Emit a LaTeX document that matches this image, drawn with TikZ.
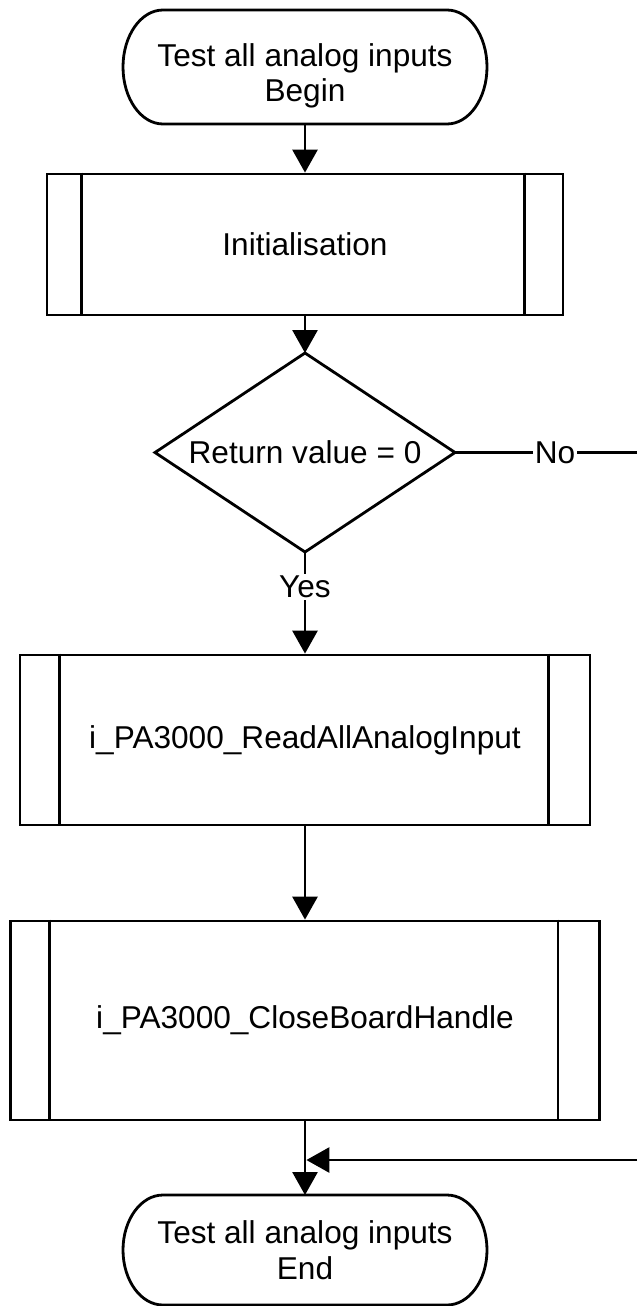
\documentclass[tikz,border=0pt]{standalone}
\usepackage{fontspec}
\setmainfont{Liberation Sans}
\usetikzlibrary{arrows.meta,calc}
\begin{document}
\begin{tikzpicture}[x=1pt,y=-1pt,line width=2.8pt,
  txt/.style={font=\fontsize{31.6}{35.5}\selectfont,align=center},
  term/.style={rectangle,minimum width=364pt,inner sep=0pt,outer sep=0pt},
  proc/.style={txt,draw,rectangle,inner sep=0pt},
  decbox/.style={txt,rectangle,inner sep=0pt,outer sep=0pt,minimum width=300pt,minimum height=199pt},
  arr/.style={-{Triangle[length=23pt,width=25pt]}},
  lbl/.style={txt,fill=white,inner sep=2pt}]
\useasboundingbox (0,0) rectangle (637,1306);

% Begin terminator
\node[term,minimum height=114pt] (begin) at (305,67) {};
\node[txt] (begintext) at (305,76) {Test all analog inputs\\Begin};
\draw ($(begin.north west)+(40,0)$) -- ($(begin.north east)+(-40,0)$)
  arc[start angle=90,end angle=-90,x radius=40pt,y radius=57pt]
  -- ($(begin.south west)+(40,0)$)
  arc[start angle=270,end angle=90,x radius=40pt,y radius=57pt] -- cycle;

% Initialisation
\node[proc,minimum width=516pt,minimum height=141pt] (init) at (305,244.5) {Initialisation};
\draw ($(init.north west)+(36,0)$) -- ($(init.south west)+(36,0)$);
\draw ($(init.north east)+(-40,0)$) -- ($(init.south east)+(-40,0)$);

% Decision
\node[decbox] (dec) at (305,452.5) {Return value = 0};
\draw (dec.north) -- (dec.east) -- (dec.south) -- (dec.west) -- cycle;

% ReadAllAnalogInput
\node[proc,minimum width=570pt,minimum height=170pt] (read) at (305,740) {i\_PA3000\_ReadAllAnalogInput};
\draw ($(read.north west)+(41,0)$) -- ($(read.south west)+(41,0)$);
\draw ($(read.north east)+(-43,0)$) -- ($(read.south east)+(-43,0)$);

% CloseBoardHandle
\node[proc,minimum width=589pt,minimum height=199pt] (close) at (305,1020.5) {i\_PA3000\_CloseBoardHandle};
\draw ($(close.north west)+(40,0)$) -- ($(close.south west)+(40,0)$);
\draw ($(close.north east)+(-43,0)$) -- ($(close.south east)+(-43,0)$);

% End terminator
\node[term,minimum height=110pt,txt] (end) at (305,1250) {Test all analog inputs\\End};
\draw ($(end.north west)+(40,0)$) -- ($(end.north east)+(-40,0)$)
  arc[start angle=90,end angle=-90,x radius=40pt,y radius=55pt]
  -- ($(end.south west)+(40,0)$)
  arc[start angle=270,end angle=90,x radius=40pt,y radius=55pt] -- cycle;

% Connectors
\draw[arr] (begin) -- (init);
\draw[arr] (init) -- (dec.north);
\draw[arr] (dec.south) -- node[lbl,pos=0.34] {Yes} (read.north);
\draw[arr] (read) -- (close);
\draw[arr] (close) -- (end);
\coordinate (noend) at (637,452.5);
\draw (dec.east) -- node[lbl,pos=0.55] {No} (noend);
\coordinate (retstart) at (637,1160);
\draw[arr] (retstart) -- ($(retstart -| end.north)+(1.4,0)$);
\end{tikzpicture}
\end{document}
